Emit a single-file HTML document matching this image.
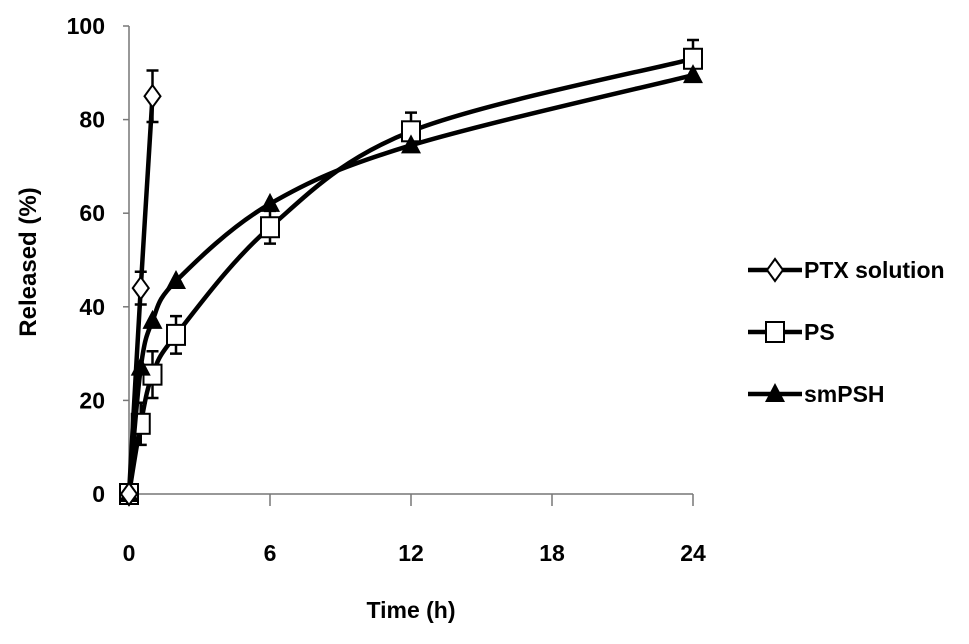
<!DOCTYPE html>
<html><head><meta charset="utf-8"><style>
body{margin:0;background:#fff}
svg text{font-family:"Liberation Sans",Arial,sans-serif;font-weight:bold;fill:#000}
</style></head><body>
<svg id="chart" width="969" height="639" viewBox="0 0 969 639" xmlns="http://www.w3.org/2000/svg">
<g id="axes"></g><g id="series"></g><g id="legend"></g>
<text x="411" y="618" font-size="23" text-anchor="middle">Time (h)</text>
<text transform="translate(36,262) rotate(-90)" font-size="24" text-anchor="middle">Released (%)</text>
</svg>
<script>
const xTicks=[0,6,12,18,24];
const yTicks=[0,20,40,60,80,100];
const ptxT=[0,0.5,1], ptxV=[0,44,85], ptxE=[0,3.5,5.5];
const psT=[0,0.5,1,2,6,12,24], psV=[0,15,25.5,34,57,77.5,93], psE=[0,4.5,5,4,3.5,4,4];
const smT=[0,0.5,1,2,6,12,24], smV=[0,27,37,45.5,62,74.5,89.5], smE=[0,0,0,0,0,0,0];
const seriesNames=["PTX solution","PS","smPSH"];
const NS="http://www.w3.org/2000/svg";
const X=t=>129+t*(693-129)/24, Y=v=>494-v*(494-26)/100;
function mk(tag,attrs,parent){const e=document.createElementNS(NS,tag);for(const k in attrs)e.setAttribute(k,attrs[k]);parent.appendChild(e);return e;}
const ax=document.getElementById('axes'), sg=document.getElementById('series'), lg=document.getElementById('legend');
let l=mk('line',{x1:129,y1:494,x2:693,y2:494,stroke:'#777','stroke-width':1.5},ax);


l=mk('line',{x1:129,y1:26,x2:129,y2:494,stroke:'#777','stroke-width':1.5},ax);


xTicks.forEach(t=>{mk('line',{x1:X(t),y1:494,x2:X(t),y2:506,stroke:'#777','stroke-width':1.5},ax);
 const tx=mk('text',{x:X(t),y:561,'font-size':23,'text-anchor':'middle'},ax);tx.textContent=t;
 
 });
yTicks.forEach(v=>{mk('line',{x1:123,y1:Y(v),x2:129,y2:Y(v),stroke:'#777','stroke-width':1.5},ax);
 const tx=mk('text',{x:105,y:Y(v)+8,'font-size':23,'text-anchor':'end'},ax);tx.textContent=v;
 
 });
function smooth(T,V){const p=T.map((t,i)=>[X(t),Y(V[i])]);let d=`M${p[0][0]},${p[0][1]}`;
 for(let i=0;i<p.length-1;i++){const p0=p[i-1]||p[i],p1=p[i],p2=p[i+1],p3=p[i+2]||p2;
  const c1=[p1[0]+(p2[0]-p0[0])/6,p1[1]+(p2[1]-p0[1])/6],c2=[p2[0]-(p3[0]-p1[0])/6,p2[1]-(p3[1]-p1[1])/6];
  d+=` C${c1[0]},${c1[1]} ${c2[0]},${c2[1]} ${p2[0]},${p2[1]}`;}return d;}
function marker(kind,x,y,g){
 if(kind==='d') return mk('path',{d:`M${x},${y-11} L${x+8},${y} L${x},${y+11} L${x-8},${y} Z`,fill:'#fff',stroke:'#000','stroke-width':2},g);
 if(kind==='s') return mk('rect',{x:x-9,y:y-10,width:18,height:20,fill:'#fff',stroke:'#000','stroke-width':2},g);
 return mk('path',{d:`M${x},${y-11} L${x+10},${y+8} L${x-10},${y+8} Z`,fill:'#000'},g);}
function draw(name,T,V,E,kind){const g=mk('g',{},sg);
 
 
 mk('path',{d:smooth(T,V),fill:'none',stroke:'#000','stroke-width':4.5},g);
 T.forEach((t,i)=>{const x=X(t);if(E[i]>0){const a=Y(V[i]+E[i]),b=Y(V[i]-E[i]);
  mk('path',{d:`M${x},${a} L${x},${b} M${x-6},${a} L${x+6},${a} M${x-6},${b} L${x+6},${b}`,stroke:'#000','stroke-width':2.5,fill:'none'},g);}
  const m=marker(kind,x,Y(V[i]),g);
  
  });}
draw('ps',psT,psV,psE,'s');
draw('smpsh',smT,smV,smE,'t');
draw('ptx',ptxT,ptxV,ptxE,'d');
const kinds=['d','s','t'];
seriesNames.forEach((n,i)=>{const y=270+i*62;const g=mk('g',{},lg);
 
 
 mk('line',{x1:748,y1:y,x2:802,y2:y,stroke:'#000','stroke-width':4.5},g);
 marker(kinds[i],775,y,g);
 const tx=mk('text',{x:804,y:y+8,'font-size':23},g);tx.textContent=n;});
</script>
</body></html>
